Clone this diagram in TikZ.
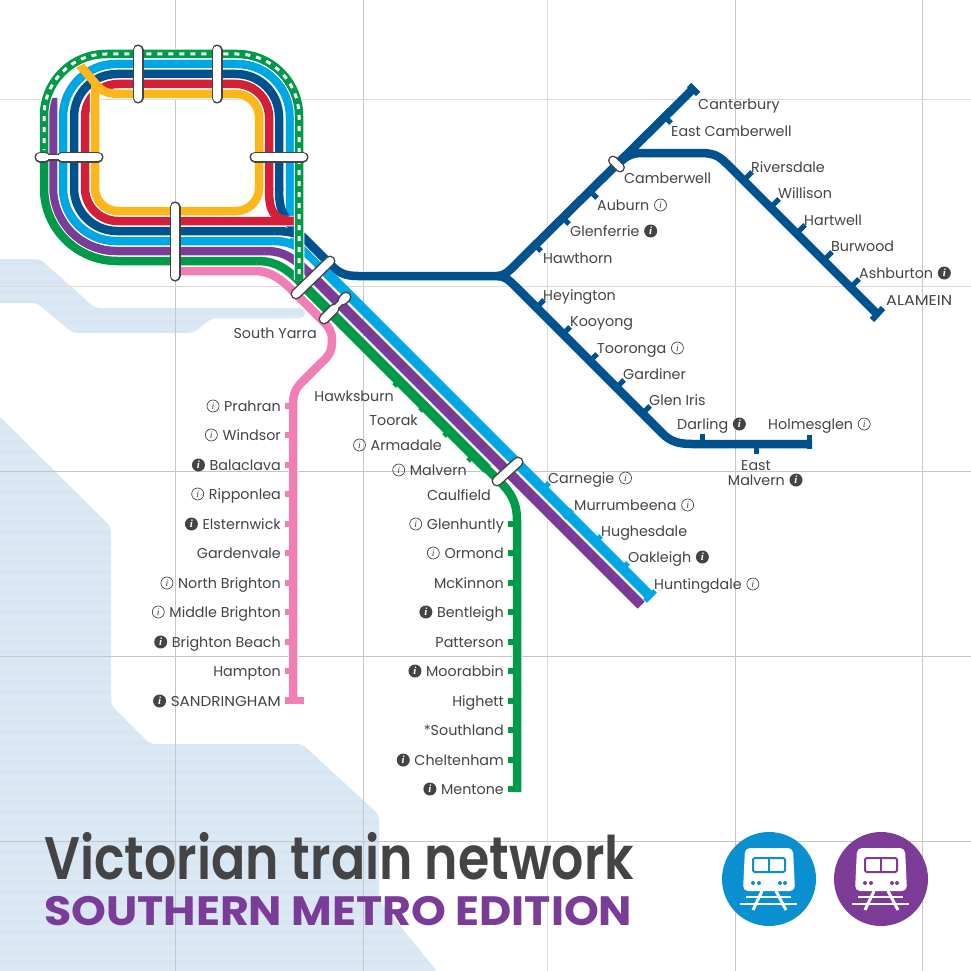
\documentclass[tikz,border=0pt]{standalone}
\usepackage{fontspec}
\usepackage{graphicx}
\setmainfont{Poppins}
\newfontfamily\titlefont{Poppins SemiBold}
\newfontfamily\ifontface{Liberation Serif}
\definecolor{ltb}{HTML}{00A7E5}
\definecolor{dkb}{HTML}{00528F}
\definecolor{redl}{HTML}{D31F38}
\definecolor{yel}{HTML}{FDB71A}
\definecolor{grn}{HTML}{009A49}
\definecolor{pnk}{HTML}{F17FB5}
\definecolor{pur}{HTML}{7A3C98}
\definecolor{txt}{HTML}{444446}
\definecolor{wat}{HTML}{D7E6F2}
\definecolor{watl}{HTML}{DBE9F4}
\tikzset{
  rail/.style={draw=#1,line width=8.5pt,preaction={draw=white,line width=10.5pt}},
  trunk/.style={draw=#1,line width=10pt},
  tick/.style={draw=#1,line width=5pt},
  gridl/.style={draw=#1,line width=1pt},
  barout/.style={draw=#1,line width=11pt,line cap=round},
  barin/.style={draw=white,line width=8pt,line cap=round},
  lab/.style={text=txt,inner sep=0pt,text height=10.3pt,text depth=0pt,font=\fontsize{14.3}{16}\selectfont},
  iopen/.style={circle,draw=txt,line width=0.7pt,minimum size=12pt,inner sep=0pt,text=txt,font=\ifontface\itshape\fontsize{10}{10}\selectfont},
  ifill/.style={circle,fill=txt,minimum size=13pt,inner sep=0pt,text=white,font=\ifontface\itshape\bfseries\fontsize{11}{11}\selectfont}
}
\newcommand\icoL[2]{\node[#2] (#1i) at ([xshift=-11pt]#1.west) {i};}
\newcommand\icoR[2]{\node[#2] (#1i) at ([xshift=11pt]#1.east) {i};}
\newcommand\stE[4]{\node[lab,anchor=east] (#1) at (#2,#3) {#4};}
\newcommand\stW[4]{\node[lab,anchor=west] (#1) at (#2,#3) {#4};}
\begin{document}
\begin{tikzpicture}[x=1pt,y=-1pt]
\useasboundingbox (0,0) rectangle (971,971);
\fill[white] (0,0) rectangle (971,971);
% water
\begin{scope}
\clip[rounded corners=5pt] (-20,259) -- (40,259) -- (95,308) -- (305,308) -- (305,318) -- (212,318) -- (193,333) -- (73,333) -- (37,303) -- (-20,303) -- cycle
  (-20,397) -- (111,527) -- (111,705) -- (150,744) -- (302,744) -- (379,815) -- (379,900) -- (452,990) -- (-20,990) -- cycle;
\fill[wat] (0,250) rectangle (460,971);
\foreach \yy in {255,265,...,965} \fill[watl] (0,\yy) rectangle (460,\yy+5);
\end{scope}
% grid
\draw[gridl=gray!45] (175,0) -- (175,971);
\draw[gridl=gray!45] (363,0) -- (363,971);
\draw[gridl=gray!28] (547,0) -- (547,971);
\draw[gridl=gray!45] (735,0) -- (735,971);
\draw[gridl=gray!45] (922,0) -- (922,971);
\draw[gridl=gray!30] (0,100) -- (971,100);
\draw[gridl=gray!30] (0,286) -- (971,286);
\draw[gridl=gray!45] (0,471) -- (971,471);
\draw[gridl=gray!45] (0,656) -- (971,656);
\draw[gridl=gray!45] (0,841) -- (971,841);
% pink
\draw[rail=pnk] (175,271) -- (253,271) .. controls (265,271) and (275,273) .. (293,291) -- (322,320) .. controls (329,327) and (332,332) .. (332,340) .. controls (332,350) and (330,355) .. (322,362) -- (303,381) .. controls (296,388) and (293,393) .. (293,405) -- (293,700);
% purple
\draw[rail=pur,rounded corners=63pt] (53,98) -- (53,251) -- (265,251);
\draw[rail=pur] (265,251) .. controls (277,251) and (289,253) .. (307,271) -- (641,605);
% light blue
\draw[rail=ltb,rounded corners=53pt] (290,225) -- (290,64) -- (63,64) -- (63,241) -- (273,241);
\draw[rail=ltb] (273,241) .. controls (285,241) and (297,243) .. (315,261) -- (650,596);
\draw[draw=ltb,line width=8.5pt] (290,222) .. controls (290,232) and (296,242) .. (305,251);
% dark blue
\draw[rail=dkb,rounded corners=43pt] (279,190) -- (279,74) -- (74,74) -- (74,231) -- (275,231);
\draw[rail=dkb] (275,231) .. controls (287,231) and (299,233) .. (305,239) -- (332,266) .. controls (340,274) and (347,276) .. (358,276) -- (500,276);
\draw[draw=dkb,line width=8.5pt] (279,188) .. controls (279,210) and (282,218) .. (305,239);
% dark blue branches
\draw[draw=dkb,line width=8.5pt] (497,276) .. controls (505,276) and (510,270) .. (515,265) -- (693,89);
\draw[draw=dkb,line width=8.5pt] (497,276) .. controls (505,276) and (510,281) .. (515,286) -- (663,434) .. controls (670,441) and (678,444) .. (692,444) -- (812,444);
\draw[draw=dkb,line width=8.5pt] (618,164) .. controls (626,156) and (632,153) .. (642,153) -- (700,153) .. controls (712,153) and (718,155) .. (726,163) -- (877,314);
\draw[tick=dkb,line width=6pt] (689,85) -- (698,94);
\draw[tick=dkb,line width=6pt] (872,320) -- (883,308);
\draw[tick=dkb,line width=5pt] (809,435) -- (809,449);
\foreach \x/\y in {541/251,569/224,597/198,671/123} \draw[tick=dkb] (\x,\y) -- ++(-7,-7);
\foreach \x/\y in {752/172,779/199,805/225,832/252,859/279,544/300,570/327,597/354,624/380,650/406} \draw[tick=dkb] (\x,\y) -- ++(-7,7);
\draw[tick=dkb] (702,434) -- (702,444);
\draw[tick=dkb] (756,444) -- (756,454);
% red
\draw[rail=redl,rounded corners=33pt] (269,190) -- (269,84) -- (85,84) -- (85,221) -- (297,221);
\draw[draw=redl,line width=8.5pt] (269,188) .. controls (269,210) and (272,221) .. (295,221);
% yellow
\draw[rail=yel,rounded corners=23pt] (95,90) -- (95,211) -- (259,211) -- (259,94) -- (122,94);
\draw[draw=yel,line width=8.5pt] (122,94) .. controls (108,94) and (102,92) .. (95,83) -- (78,63);
\draw[draw=yel,line width=8.5pt] (95,95) -- (95,84);
% green
\draw[rail=grn,rounded corners=73pt] (44,157) -- (44,261) -- (257,261);
\draw[rail=grn] (257,261) .. controls (269,261) and (281,263) .. (299,281) -- (488,470) .. controls (504,486) and (517,495) .. (517,520) -- (517,792);
\draw[rail=grn,rounded corners=62pt] (299,280) -- (299,54) -- (44,54) -- (44,160);
\draw[draw=white,line width=3pt,dash pattern=on 5pt off 6pt,rounded corners=62pt] (299,274) -- (299,54) -- (44,54) -- (44,150);
% diagonal trunks (drawn slightly wider)
\draw[trunk=ltb] (318,264) -- (650,596);
\draw[trunk=pur] (309,273) -- (641,605);
\draw[trunk=grn] (301,283) -- (487,469);
% ticks
\foreach \y in {406,435,465,494,524,553,583,612,642,671} \draw[tick=pnk,line width=6pt] (285,\y) -- (293,\y);
\draw[tick=pnk,line width=7pt] (285,700.5) -- (304,700.5);
\foreach \y in {524,553,583,612,642,671,701,730,760} \draw[tick=grn,line width=6pt] (508,\y) -- (517,\y);
\draw[tick=grn,line width=6pt] (508,789) -- (521,789);
\foreach \x/\y in {394/386,420/411,444/436,468/461} \draw[tick=grn] (\x,\y) -- ++(8,-8);
\foreach \x/\y in {549/483,572/510,601/536,628/563} \draw[tick=ltb] (\x,\y) -- ++(-8,8);
\draw[tick=ltb] (645,601) -- (655,591);
% interchange bars
\foreach \a/\b in {{138,50}/{138,98},{217,50}/{217,98},{255,157}/{303,157},{175,207}/{175,276},{296,294}/{330,261},{497,481}/{518,462}}{
  \draw[barout=txt] (\a) -- (\b);
  \draw[barin] (\a) -- (\b);
}
\draw[barout=txt,line width=10pt] (613,160.5) -- (620,167.5);
\draw[barin,line width=7pt] (613,160.5) -- (620,167.5);
% waisted bars
\draw[barout=txt] (40,157) -- (45,157);
\draw[barout=txt] (62,157) -- (98,157);
\draw[draw=txt,line width=7pt] (45,157) -- (62,157);
\draw[barin] (40,157) -- (45,157);
\draw[barin] (62,157) -- (98,157);
\draw[draw=white,line width=4pt] (45,157) -- (62,157);
\draw[barout=txt] (324,319) -- (334,309);
\draw[barout=txt] (343,300) -- (346,297);
\draw[draw=txt,line width=7pt] (334,309) -- (343,300);
\draw[barin] (324,319) -- (334,309);
\draw[barin] (343,300) -- (346,297);
\draw[draw=white,line width=4pt] (334,309) -- (343,300);
% labels: pink line
\stE{prahran}{281}{406}{Prahran}\icoL{prahran}{iopen}
\stE{windsor}{281}{435}{Windsor}\icoL{windsor}{iopen}
\stE{balaclava}{281}{465}{Balaclava}\icoL{balaclava}{ifill}
\stE{ripponlea}{281}{494}{Ripponlea}\icoL{ripponlea}{iopen}
\stE{elsternwick}{281}{524}{Elsternwick}\icoL{elsternwick}{ifill}
\stE{gardenvale}{281}{553}{Gardenvale}
\stE{nbrighton}{281}{583}{North Brighton}\icoL{nbrighton}{iopen}
\stE{mbrighton}{281}{612}{Middle Brighton}\icoL{mbrighton}{iopen}
\stE{bbeach}{281}{642}{Brighton Beach}\icoL{bbeach}{ifill}
\stE{hampton}{281}{671}{Hampton}
\stE{sandringham}{281}{701}{\resizebox{110pt}{\height}{SANDRINGHAM}}\icoL{sandringham}{ifill}
\stE{southyarra}{317}{333}{South Yarra}
% green line
\stE{hawksburn}{394}{396}{Hawksburn}
\stE{toorak}{418}{420}{Toorak}
\stE{armadale}{442}{445}{Armadale}\icoL{armadale}{iopen}
\stE{malvern}{467}{470}{Malvern}\icoL{malvern}{iopen}
\stE{caulfield}{491}{495}{Caulfield}
\stE{glenhuntly}{504}{524}{Glenhuntly}\icoL{glenhuntly}{iopen}
\stE{ormond}{504}{553}{Ormond}\icoL{ormond}{iopen}
\stE{mckinnon}{504}{583}{McKinnon}
\stE{bentleigh}{504}{612}{Bentleigh}\icoL{bentleigh}{ifill}
\stE{patterson}{504}{642}{Patterson}
\stE{moorabbin}{504}{671}{Moorabbin}\icoL{moorabbin}{ifill}
\stE{highett}{504}{701}{Highett}
\stE{southland}{504}{730}{*Southland}
\stE{cheltenham}{504}{760}{Cheltenham}\icoL{cheltenham}{ifill}
\stE{mentone}{504}{789}{Mentone}\icoL{mentone}{ifill}
% right side
\stW{canterbury}{698}{104}{Canterbury}
\stW{ecamberwell}{671}{131}{East Camberwell}
\stW{camberwell}{624}{178}{Camberwell}
\stW{auburn}{597}{205}{Auburn}\icoR{auburn}{iopen}
\stW{glenferrie}{570}{231}{Glenferrie}\icoR{glenferrie}{ifill}
\stW{hawthorn}{543}{258}{Hawthorn}
\stW{riversdale}{751}{167}{Riversdale}
\stW{willison}{778}{193}{Willison}
\stW{hartwell}{804}{220}{Hartwell}
\stW{burwood}{831}{246}{Burwood}
\stW{ashburton}{859}{273}{Ashburton}\icoR{ashburton}{ifill}
\stW{alamein}{886}{300}{\resizebox{66pt}{\height}{ALAMEIN}}
\stW{heyington}{543}{295}{Heyington}
\stW{kooyong}{570}{321}{Kooyong}
\stW{tooronga}{597}{348}{Tooronga}\icoR{tooronga}{iopen}
\stW{gardiner}{623}{374}{Gardiner}
\stW{gleniris}{649}{400}{Glen Iris}
\stW{darling}{677}{424}{Darling}\icoR{darling}{ifill}
\stW{holmesglen}{768}{424}{Holmesglen}\icoR{holmesglen}{iopen}
\node[lab,anchor=center] (east) at (756,465) {East};
\stE{emalvern}{785}{480}{Malvern}\icoR{emalvern}{ifill}
\stW{carnegie}{548}{478}{Carnegie}\icoR{carnegie}{iopen}
\stW{murrumbeena}{574}{505}{Murrumbeena}\icoR{murrumbeena}{iopen}
\stW{hughesdale}{601}{531}{Hughesdale}
\stW{oakleigh}{628}{557}{Oakleigh}\icoR{oakleigh}{ifill}
\stW{huntingdale}{654}{584}{Huntingdale}\icoR{huntingdale}{iopen}
% title
\node[anchor=base west,inner sep=0pt,text=txt] (title) at (44,879) {\resizebox{590pt}{\height}{\titlefont\fontsize{60}{60}\selectfont Victorian train network}};
\node[anchor=base west,inner sep=0pt,text=pur] (subtitle) at (44,925) {\resizebox{588pt}{\height}{\fontsize{41}{41}\selectfont\bfseries SOUTHERN METRO EDITION}};
% train badges
\foreach \cx/\cc in {769/0A8FD1,881/7B3B97}{
\definecolor{badge}{HTML}{\cc}
\begin{scope}[shift={(\cx,879)}]
\fill[badge] (0,0) circle[radius=47pt];
\fill[white,rounded corners=5pt] (-24,-31) -- (24,-31) -- (26,12) -- (-26,12) -- cycle;
\draw[badge,line width=2pt,rounded corners=1.5pt] (-16,-21) rectangle (16,-7);
\draw[badge,line width=1.5pt] (0,-21) -- (0,-7);
\foreach \dx in {-16,-10,11,16} \fill[badge] (\dx,4) circle[radius=2pt];
\draw[white,line width=2.5pt] (-23,18) -- (22,18);
\draw[white,line width=2.5pt] (-29,25) -- (28,25);
\draw[white,line width=3pt] (-7,12) -- (-16,31);
\draw[white,line width=3pt] (7,12) -- (17,31);
\end{scope}
}
\end{tikzpicture}
\end{document}
